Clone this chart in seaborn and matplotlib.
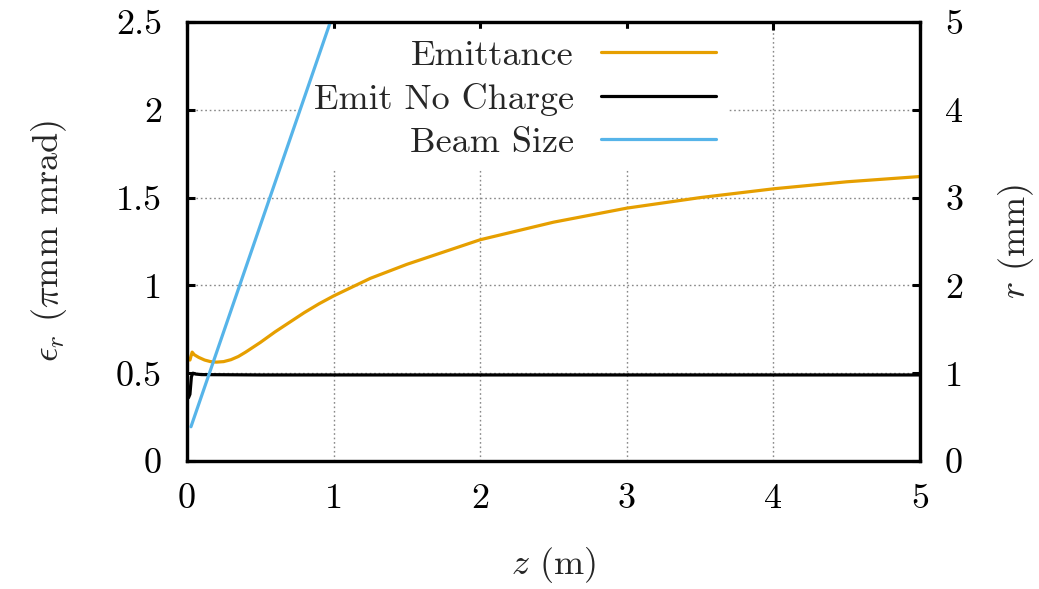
import numpy as np
import pandas as pd
import matplotlib
matplotlib.use("Agg")
import matplotlib.pyplot as plt
import seaborn as sns

# ---- data ----
z_emit = [0.02, 0.035, 0.05, 0.08, 0.12, 0.16, 0.2, 0.25, 0.3, 0.35, 0.4, 0.5, 0.6,
          0.7, 0.8, 0.9, 1.0, 1.25, 1.5, 1.75, 2.0, 2.5, 3.0, 3.5, 4.0, 4.5, 5.0]
emittance = [0.575, 0.62, 0.605, 0.59, 0.575, 0.566, 0.563, 0.566, 0.577, 0.595,
             0.62, 0.675, 0.735, 0.79, 0.845, 0.895, 0.94, 1.04, 1.12, 1.19, 1.26,
             1.36, 1.44, 1.50, 1.55, 1.59, 1.62]

z_nocharge = [0.01, 0.02, 0.03, 0.04, 0.06, 0.1, 0.5, 1.0, 2.0, 3.0, 4.0, 5.0]
emit_nocharge = [0.36, 0.38, 0.48, 0.50, 0.495, 0.492, 0.49, 0.49, 0.49, 0.49, 0.49, 0.49]

z_beam = [0.027, 1.05]
beam_size = [0.39, 5.35]

x_ticks = [0, 1, 2, 3, 4, 5]
x_ticklabels = ["0", "1", "2", "3", "4", "5"]
y1_ticks = [0, 0.5, 1, 1.5, 2, 2.5]
y1_ticklabels = ["0", "0.5", "1", "1.5", "2", "2.5"]
y2_ticks = [0, 1, 2, 3, 4, 5]
y2_ticklabels = ["0", "1", "2", "3", "4", "5"]

c_emit = "#E69F00"
c_noch = "#000000"
c_beam = "#56B4E9"

sns.set_theme(style="white")
plt.rcParams["font.family"] = "serif"
plt.rcParams["font.serif"] = ["cmr10", "DejaVu Serif"]
plt.rcParams["mathtext.fontset"] = "cm"
plt.rcParams["axes.formatter.use_mathtext"] = True
FS = 26

fig = plt.figure(figsize=(10.39, 5.89), dpi=100)
ax = fig.add_axes([187/1039, 1 - 461/589, (920-187)/1039, (461-22)/589])
ax2 = ax.twinx()

df_e = pd.DataFrame({"z": z_emit, "v": emittance})
df_n = pd.DataFrame({"z": z_nocharge, "v": emit_nocharge})
df_b = pd.DataFrame({"z": z_beam, "v": beam_size})

lw = 2.3
sns.lineplot(data=df_e, x="z", y="v", ax=ax, color=c_emit, lw=lw, label="Emittance", legend=False)
sns.lineplot(data=df_n, x="z", y="v", ax=ax, color=c_noch, lw=lw, label="Emit No Charge", legend=False)
sns.lineplot(data=df_b, x="z", y="v", ax=ax2, color=c_beam, lw=lw, label="Beam Size", legend=False)

ax.set_xlim(0, 5)
ax.set_ylim(0, 2.5)
ax2.set_ylim(0, 5)

ax.set_xticks(x_ticks)
ax.set_xticklabels(x_ticklabels)
ax.set_yticks(y1_ticks)
ax.set_yticklabels(y1_ticklabels)
ax2.set_yticks(y2_ticks)
ax2.set_yticklabels(y2_ticklabels)

ax.grid(True, color="#888888", linestyle=(0, (1.2, 2.0)), linewidth=1.0)
ax.set_axisbelow(True)
ax2.grid(False)
ax2.patch.set_visible(False)

for a in (ax, ax2):
    for s in a.spines.values():
        s.set_linewidth(2.3)
        s.set_color("black")
        s.set_zorder(10)

ax.tick_params(axis="both", direction="in", length=6, width=2.2, labelsize=FS,
               top=True, right=False, pad=18, colors="black")
ax.tick_params(axis="x", pad=16)
ax2.tick_params(axis="y", direction="in", length=6, width=2.2, labelsize=FS, pad=18,
                colors="black")

ax.set_xlabel(r"$z$ (m)", fontsize=FS, labelpad=22)
ax.set_ylabel(r"$\epsilon_r$ ($\pi$mm mrad)", fontsize=FS, labelpad=34)
ax2.set_ylabel(r"$r$ (mm)", fontsize=FS, labelpad=24)

h1, l1 = ax.get_legend_handles_labels()
h2, l2 = ax2.get_legend_handles_labels()
leg = ax2.legend(h1 + h2, l1 + l2, loc="upper right", bbox_to_anchor=(0.737, 0.985),
                 markerfirst=False, fontsize=FS, handlelength=3.2, handletextpad=0.75,
                 labelspacing=0.3, borderpad=0.3, borderaxespad=0.0,
                 frameon=True, fancybox=False, framealpha=1.0, edgecolor="white",
                 facecolor="white")
leg.set_zorder(1)

fig.savefig("out.png", dpi=100)
